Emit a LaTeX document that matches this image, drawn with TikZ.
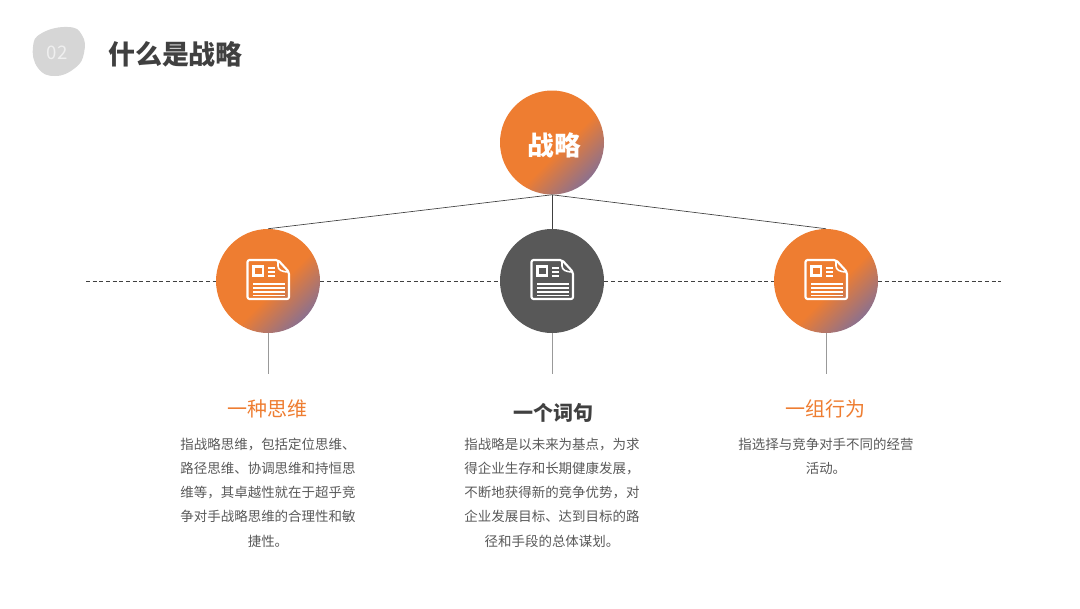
\documentclass[tikz,border=0pt]{standalone}
\usepackage{fontspec}
\setmainfont{Noto Sans CJK SC}
\usetikzlibrary{calc}
\definecolor{StrategyOrange}{HTML}{EE7D31}
\definecolor{StrategyDusk}{HTML}{6A6CAE}
\definecolor{StrategyInk}{HTML}{404040}
\definecolor{StrategyText}{HTML}{595959}
\definecolor{StrategyDark}{HTML}{585858}
\definecolor{StrategyBlob}{HTML}{D6D6D6}
\pgfdeclarehorizontalshading{orangefade}{100bp}{color(0bp)=(StrategyOrange); color(55bp)=(StrategyOrange); color(82bp)=(StrategyDusk); color(100bp)=(StrategyDusk)}
\tikzset{
  bubble/.style={circle,minimum size=78pt,inner sep=0pt},
  orangebubble/.style={bubble,shading=orangefade,shading angle=-45},
  darkbubble/.style={bubble,fill=StrategyDark},
  treeline/.style={draw=StrategyInk,line width=0.5pt},
  dropline/.style={draw=gray!80,line width=0.7pt},
  midline/.style={draw=StrategyInk,line width=0.5pt,densely dashed},
  heading/.style={font=\fontsize{15}{18}\selectfont,text=StrategyOrange},
  bodytext/.style={font=\fontsize{10.1}{18.2}\selectfont,text=StrategyText,align=center},
  pics/docicon/.style={code={
    \draw[white,line width=1.6pt,line join=round,rounded corners=1.5pt]
      (-20.5,-21) -- (10,-21) -- (21,-9) -- (21,18) -- (-20.5,18) -- cycle;
    \draw[white,line width=1.2pt,line join=round] (10,-21) -- (10,-15) .. controls (10,-11) and (14,-9) .. (21,-9);
    \draw[white,line width=1.7pt] (-14.5,-14.5) rectangle (-5,-5.5);
    \foreach \y in {-13,-9,-5}
      \draw[white,line width=1pt] (0,\y) -- (7,\y);
    \foreach \y in {3,7,11,14.5}
      \draw[white,line width=1pt] (-15,\y) -- (16.5,\y);
  }}
}

\begin{document}
\begin{tikzpicture}[x=0.75pt,y=-0.75pt]
    \useasboundingbox (0,0) rectangle (1080,608);

    % number badge and title
    \fill[StrategyBlob] plot[smooth cycle,tension=0.8] coordinates
      {(33,47) (42,33) (68,27) (82,35) (84,53) (75,68) (55,76) (38,68)};
    \node[text=white!60!StrategyBlob,font=\fontsize{14}{16}\selectfont] (badge) at (57,53) {02};
    \node[text=StrategyInk,font=\fontsize{20.2}{24}\selectfont\bfseries] (title) at (175.5,54.5) {什么是战略};

    % the four circles
    \node[orangebubble,text=white,font=\fontsize{20}{24}\selectfont\bfseries,text depth=0pt] (top) at (552,142.5) {\hspace{3pt}\raisebox{-2.2pt}{战略}};
    \node[orangebubble] (left) at (268,281) {};
    \node[darkbubble] (mid) at (552,281) {};
    \node[orangebubble] (right) at (826,281) {};

    \pic at (left) {docicon};
    \pic at (mid) {docicon};
    \pic at (right) {docicon};

    \coordinate (lineleft) at (86,281);
    \coordinate (lineright) at (1001,281);
    \draw[midline] (lineleft) -- (left.west);
    \draw[midline] (left.east) -- (mid.west);
    \draw[midline] (mid.east) -- (right.west);
    \draw[midline] (right.east) -- (lineright);

    \draw[treeline] (top.south) -- (left.north);
    \draw[treeline] (top.south) -- (mid.north);
    \draw[treeline] (top.south) -- (right.north);

    \coordinate (leftend) at (268,374);
    \coordinate (midend) at (552,374);
    \coordinate (rightend) at (826,374);
    \draw[dropline] (left.south) -- (leftend);
    \draw[dropline] (mid.south) -- (midend);
    \draw[dropline] (right.south) -- (rightend);

    % texts under the circles
    \node[heading] (leftname) at (267,408.5) {一种思维};
    \node[heading,text=StrategyInk,font=\fontsize{15}{18}\selectfont\bfseries] (midname) at (553,413) {一个词句};
    \node[heading] (rightname) at (825,408.5) {一组行为};

    \node[bodytext,anchor=north] (leftbody) at (268,433) {指战略思维，包括定位思维、\\路径思维、协调思维和持恒思\\维等，其卓越性就在于超乎竞\\争对手战略思维的合理性和敏\\捷性。};
    \node[bodytext,anchor=north] (midbody) at (552,433) {指战略是以未来为基点，为求\\得企业生存和长期健康发展，\\不断地获得新的竞争优势，对\\企业发展目标、达到目标的路\\径和手段的总体谋划。};
    \node[bodytext,anchor=north] (rightbody) at (826,433) {指选择与竞争对手不同的经营\\活动。};
  \end{tikzpicture}
\end{document}
